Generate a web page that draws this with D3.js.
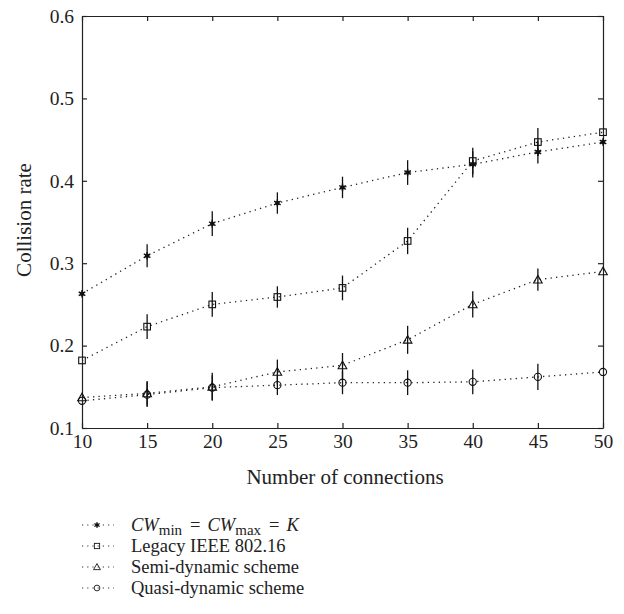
<!DOCTYPE html>
<html lang="en">
<head>
<meta charset="UTF-8">
<title>Collision rate</title>
<style>
    body{ margin: 0; background: #fff; }
    svg{ display: block; background: #fff; }
    .axis path, .axis line{ stroke: #222; stroke-width: 1.2; }
    .axis text{ fill: #222; font-family: "Liberation Serif", serif; font-size: 19.5px; }
</style>
</head>
<body>
<div id="chart"></div>
<script src="https://cdn.jsdelivr.net/npm/d3@7"></script>
<script>
    // data (error at the end points is hidden by the axes)
    var connections = [10, 15, 20, 25, 30, 35, 40, 45, 50];
    var fixedCW   = [0.263, 0.309, 0.348, 0.373, 0.392, 0.410, 0.420, 0.435, 0.447];
    var fixedErr  = [0, 0.014, 0.015, 0.013, 0.013, 0.015, 0.016, 0.014, 0];
    var legacy    = [0.182, 0.223, 0.250, 0.259, 0.270, 0.327, 0.424, 0.447, 0.459];
    var legacyErr = [0, 0.015, 0.015, 0.013, 0.015, 0.016, 0.016, 0.017, 0];
    var semi      = [0.137, 0.142, 0.150, 0.168, 0.176, 0.207, 0.250, 0.280, 0.290];
    var semiErr   = [0, 0.015, 0.017, 0.015, 0.015, 0.017, 0.016, 0.0135, 0];
    var quasi     = [0.133, 0.1405, 0.149, 0.152, 0.155, 0.155, 0.156, 0.162, 0.168];
    var quasiErr  = [0, 0.015, 0.015, 0.012, 0.014, 0.015, 0.015, 0.016, 0];
    var yTicks = [0.1, 0.2, 0.3, 0.4, 0.5, 0.6];
    var xTicks = [10, 15, 20, 25, 30, 35, 40, 45, 50];

    var series = [
        {name: 'fixed',  values: fixedCW, err: fixedErr,  marker: 'star'},
        {name: 'legacy', values: legacy,  err: legacyErr, marker: 'square'},
        {name: 'semi',   values: semi,    err: semiErr,   marker: 'triangle'},
        {name: 'quasi',  values: quasi,   err: quasiErr,  marker: 'circle'}
    ];

    var width = 624, height = 614;
    var plotLeft = 82, plotRight = 603, plotTop = 16, plotBottom = 428;

    var svg = d3.select('#chart')
        .append('svg')
        .attr('width', width)
        .attr('height', height);

    var xScale = d3.scaleLinear().domain([10, 50]).range([plotLeft, plotRight]);
    var yScale = d3.scaleLinear().domain([0.1, 0.6]).range([plotBottom, plotTop]);

    // axes with inward ticks on all four sides
    svg.append('g').attr('class', 'axis')
        .attr('transform', 'translate(0,' + plotBottom + ')')
        .call(d3.axisBottom(xScale).tickValues(xTicks).tickSize(-5).tickPadding(6).tickSizeOuter(0));
    svg.append('g').attr('class', 'axis')
        .attr('transform', 'translate(0,' + plotTop + ')')
        .call(d3.axisTop(xScale).tickValues(xTicks).tickSize(-5).tickSizeOuter(0).tickFormat(''));
    svg.append('g').attr('class', 'axis')
        .attr('transform', 'translate(' + plotLeft + ',0)')
        .call(d3.axisLeft(yScale).tickValues(yTicks).tickSize(-5).tickPadding(8).tickSizeOuter(0).tickFormat(d3.format('.1f')));
    svg.append('g').attr('class', 'axis')
        .attr('transform', 'translate(' + plotRight + ',0)')
        .call(d3.axisRight(yScale).tickValues(yTicks).tickSize(-5).tickSizeOuter(0).tickFormat(''));

    // axis titles
    svg.append('text')
        .attr('x', 345)
        .attr('y', 484)
        .attr('text-anchor', 'middle')
        .attr('font-family', '"Liberation Serif", serif')
        .attr('font-size', '21px')
        .attr('fill', '#222')
        .text('Number of connections');
    svg.append('text')
        .attr('transform', 'translate(31,220) rotate(-90)')
        .attr('text-anchor', 'middle')
        .attr('font-family', '"Liberation Serif", serif')
        .attr('font-size', '21px')
        .attr('fill', '#222')
        .text('Collision rate');

    function drawMarker(g, type, x, y) {
        if (type === 'star') {
            var r = 3.8;
            [90, 30, -30].forEach(function(a) {
                var rad = a * Math.PI / 180;
                g.append('line')
                    .attr('x1', x - r * Math.cos(rad)).attr('y1', y - r * Math.sin(rad))
                    .attr('x2', x + r * Math.cos(rad)).attr('y2', y + r * Math.sin(rad))
                    .attr('stroke', '#111').attr('stroke-width', 1.4);
            });
            g.append('circle').attr('cx', x).attr('cy', y).attr('r', 2.2).attr('fill', '#111');
        } else if (type === 'square') {
            g.append('rect').attr('x', x - 3.3).attr('y', y - 3.3).attr('width', 6.6).attr('height', 6.6)
                .attr('fill', 'none').attr('stroke', '#111').attr('stroke-width', 1.1);
        } else if (type === 'triangle') {
            g.append('path')
                .attr('d', 'M' + x + ',' + (y - 4.3) + 'L' + (x + 4.3) + ',' + (y + 3.3) + 'L' + (x - 4.3) + ',' + (y + 3.3) + 'Z')
                .attr('fill', 'none').attr('stroke', '#111').attr('stroke-width', 1.1);
        } else {
            g.append('circle').attr('cx', x).attr('cy', y).attr('r', 3.6)
                .attr('fill', 'none').attr('stroke', '#111').attr('stroke-width', 1.1);
        }
    }

    var line = d3.line()
        .x(function(d) { return xScale(d[0]); })
        .y(function(d) { return yScale(d[1]); });

    series.forEach(function(s) {
        var g = svg.append('g');
        var pts = connections.map(function(c, i) { return [c, s.values[i], s.err[i]]; });

        g.append('path')
            .datum(pts)
            .attr('d', line)
            .attr('fill', 'none')
            .attr('stroke', '#222')
            .attr('stroke-width', 1.3)
            .attr('stroke-dasharray', '1.3,4.2');

        g.selectAll('.err')
            .data(pts.filter(function(d) { return d[2] > 0; }))
            .enter()
            .append('line')
            .attr('class', 'err')
            .attr('x1', function(d) { return xScale(d[0]); })
            .attr('x2', function(d) { return xScale(d[0]); })
            .attr('y1', function(d) { return yScale(d[1] - d[2]); })
            .attr('y2', function(d) { return yScale(d[1] + d[2]); })
            .attr('stroke', '#111')
            .attr('stroke-width', 1.3);

        pts.forEach(function(d) {
            drawMarker(g, s.marker, xScale(d[0]), yScale(d[1]));
        });
    });

    // legend
    var legendRows = [
        {marker: 'star', label: null},
        {marker: 'square', label: 'Legacy IEEE 802.16'},
        {marker: 'triangle', label: 'Semi-dynamic scheme'},
        {marker: 'circle', label: 'Quasi-dynamic scheme'}
    ];
    var legend = svg.append('g');
    legendRows.forEach(function(row, i) {
        var y = 525 + i * 21;
        var g = legend.append('g');
        g.append('line')
            .attr('x1', 82).attr('x2', 114).attr('y1', y).attr('y2', y)
            .attr('stroke', '#333').attr('stroke-width', 1.2)
            .attr('stroke-dasharray', '1.2,4');
        var sg = g.append('g').attr('transform', 'translate(97,' + y + ') scale(0.8) translate(-97,' + (-y) + ')');
        drawMarker(sg, row.marker, 97, y);
        var t = g.append('text')
            .attr('x', 131).attr('y', y + 6)
            .attr('font-family', '"Liberation Serif", serif')
            .attr('font-size', '18.5px')
            .attr('fill', '#222');
        if (row.label) {
            t.text(row.label);
        } else {
            t.append('tspan').attr('font-style', 'italic').text('CW');
            t.append('tspan').attr('font-size', '15px').attr('dy', 4).text('min');
            t.append('tspan').attr('dx', 8).attr('dy', -4).text('=');
            t.append('tspan').attr('dx', 7).attr('font-style', 'italic').text('CW');
            t.append('tspan').attr('font-size', '15px').attr('dy', 4).text('max');
            t.append('tspan').attr('dx', 8).attr('dy', -4).text('=');
            t.append('tspan').attr('dx', 7).attr('font-style', 'italic').text('K');
        }
    });
</script>
</body>
</html>
